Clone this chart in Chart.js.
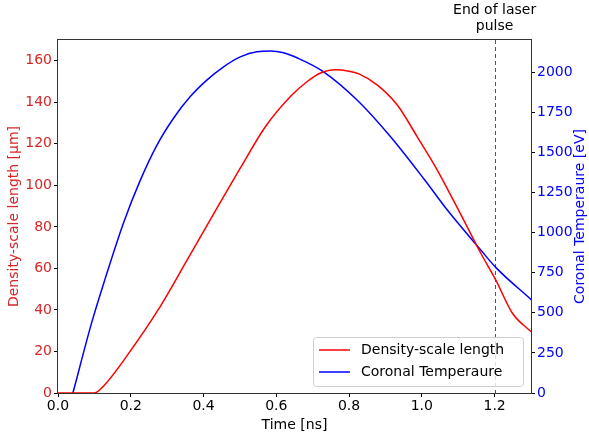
<!DOCTYPE html>
<html>
<head>
<meta charset="utf-8">
<script src="https://cdn.jsdelivr.net/npm/chart.js@4.4.0/dist/chart.umd.min.js"></script>
<style>
  html, body { margin: 0; padding: 0; background: #fff; }
</style>
</head>
<body>
<canvas id="myChart" width="589" height="439"></canvas>
<script>
// density-scale length (red, left axis), time in ns
var timeRed = [0, 0.1, 0.128, 0.2, 0.275, 0.35, 0.44, 0.5, 0.569, 0.64, 0.685, 0.72, 0.762, 0.8, 0.827, 0.877, 0.932, 0.987, 1.042, 1.107, 1.162, 1.203, 1.249, 1.3];
var densityLength = [0, 0, 3.9, 20.5, 40, 62.5, 90, 108, 128, 143, 150, 154, 155.7, 155, 153.7, 148.4, 138.8, 123.5, 107.5, 86, 67.3, 54.5, 38.4, 29.5];
// coronal temperature (blue, right axis)
var timeBlue = [0.041, 0.092, 0.129, 0.18, 0.226, 0.272, 0.317, 0.363, 0.409, 0.455, 0.501, 0.547, 0.584, 0.62, 0.661, 0.73, 0.822, 0.914, 1.008, 1.07, 1.162, 1.203, 1.302];
var coronalTemp = [0, 434, 708, 1060, 1325, 1545, 1711, 1846, 1950, 2033, 2095, 2127, 2131, 2120, 2085, 2002, 1826, 1597, 1327, 1140, 891, 783, 579];
var laserEnd = 1.2;
var seriesNames = ["Density-scale length", "Coronal Temperaure"];
var xTicks = [0, 0.2, 0.4, 0.6, 0.8, 1.0, 1.2];
var leftTicks = [0, 20, 40, 60, 80, 100, 120, 140, 160];
var rightTicks = [0, 250, 500, 750, 1000, 1250, 1500, 1750, 2000];
var rightTitle = "Coronal Temperaure [eV]";

var FONT = "DejaVu Sans";
var redText = "#d62728";

function toPoints(xs, ys) {
  return xs.map(function (x, i) { return {x: x, y: ys[i]}; });
}
function setTicks(list) {
  return function (scale) { scale.ticks = list.map(function (v) { return {value: v}; }); };
}

var framePlugin = {
  id: "frame",
  beforeDatasetsDraw: function (chart) {
    // dashed line marking the end of the pulse
    var ctx = chart.ctx, a = chart.chartArea;
    var px = Math.round(chart.scales.x.getPixelForValue(laserEnd));
    ctx.save();
    ctx.strokeStyle = "#555";
    ctx.lineWidth = 1;
    ctx.setLineDash([4, 3]);
    ctx.beginPath();
    ctx.moveTo(px + 0.5, a.top);
    ctx.lineTo(px + 0.5, a.bottom);
    ctx.stroke();
    ctx.restore();
  },
  afterDatasetsDraw: function (chart) {
    var ctx = chart.ctx, a = chart.chartArea;
    ctx.save();
    ctx.strokeStyle = "#333";
    ctx.lineWidth = 1;
    ctx.strokeRect(Math.round(a.left) - 0.5, Math.round(a.top) - 0.5,
      Math.round(a.right - a.left) + 1, Math.round(a.bottom - a.top) + 1);
    ctx.restore();
  },
  afterDraw: function (chart) {
    var ctx = chart.ctx, a = chart.chartArea;
    var px = chart.scales.x.getPixelForValue(laserEnd);
    ctx.save();
    ctx.fillStyle = "#000";
    ctx.font = "14px '" + FONT + "'";
    ctx.textAlign = "center";
    ctx.textBaseline = "middle";
    ctx.fillText("End of laser", px, 10);
    ctx.fillText("pulse", px, 26);

    // right axis title, reading bottom to top like matplotlib
    ctx.save();
    ctx.translate(580, (a.top + a.bottom) / 2);
    ctx.rotate(-Math.PI / 2);
    ctx.fillStyle = "#0000ff";
    ctx.fillText(rightTitle, 0, 0);
    ctx.restore();

    // legend, lower right inside the plot
    var bx = a.right - 218, by = a.bottom - 56, bw = 210, bh = 49;
    ctx.fillStyle = "rgba(255,255,255,0.8)";
    ctx.strokeStyle = "#d0d0d0";
    ctx.lineWidth = 1;
    ctx.beginPath();
    ctx.roundRect(bx + 0.5, by + 0.5, bw, bh, 3);
    ctx.fill();
    ctx.stroke();
    chart.data.datasets.forEach(function (ds, i) {
      var ly = by + 13 + i * 22;
      ctx.strokeStyle = ds.borderColor;
      ctx.lineWidth = 1.5;
      ctx.beginPath();
      ctx.moveTo(bx + 6, ly);
      ctx.lineTo(bx + 37, ly);
      ctx.stroke();
      ctx.fillStyle = "#000";
      ctx.textAlign = "left";
      ctx.fillText(ds.label, bx + 48, ly);
    });
    ctx.restore();
  }
};

new Chart("myChart", {
  type: "scatter",
  data: {
    datasets: [{
      label: seriesNames[0],
      data: toPoints(timeRed, densityLength),
      borderColor: "#ff0000",
      backgroundColor: "#ff0000",
      showLine: true,
      pointRadius: 0,
      borderWidth: 1.5,
      cubicInterpolationMode: "monotone",
      yAxisID: "y"
    }, {
      label: seriesNames[1],
      data: toPoints(timeBlue, coronalTemp),
      borderColor: "#0000ff",
      backgroundColor: "#0000ff",
      showLine: true,
      pointRadius: 0,
      borderWidth: 1.5,
      cubicInterpolationMode: "monotone",
      yAxisID: "y1"
    }]
  },
  options: {
    responsive: false,
    animation: false,
    devicePixelRatio: 1,
    layout: {padding: {top: 40, left: 0, right: 0, bottom: 0}},
    plugins: {legend: {display: false}, tooltip: {enabled: false}},
    scales: {
      x: {
        type: "linear",
        min: 0, max: 1.3,
        afterBuildTicks: setTicks(xTicks),
        afterFit: function (s) { s.height = 46; },
        border: {display: false},
        grid: {drawOnChartArea: false, color: "#000", tickLength: 4},
        ticks: {
          maxRotation: 0, padding: 1, autoSkip: false,
          color: "#000", font: {family: FONT, size: 14},
          callback: function (v) { return v.toFixed(1); }
        },
        title: {display: true, text: "Time [ns]", color: "#000", font: {family: FONT, size: 14}, padding: {top: 0, bottom: 5}}
      },
      y: {
        position: "left",
        min: 0, max: 170,
        afterBuildTicks: setTicks(leftTicks),
        afterFit: function (s) { s.width = 58; },
        border: {display: false},
        grid: {drawOnChartArea: false, color: "#000", tickLength: 4},
        ticks: {padding: 2, autoSkip: false, color: redText, font: {family: FONT, size: 14},
          callback: function (v) { return String(v); }},
        title: {display: true, text: "Density-scale length [\u03bcm]", color: redText, font: {family: FONT, size: 14}, padding: {top: 6, bottom: 0}}
      },
      y1: {
        position: "right",
        min: 0, max: 2200,
        afterBuildTicks: setTicks(rightTicks),
        afterFit: function (s) { s.width = 58; },
        border: {display: false},
        grid: {drawOnChartArea: false, color: "#000", tickLength: 4},
        ticks: {padding: 2, autoSkip: false, color: "#0000ff", font: {family: FONT, size: 14},
          callback: function (v) { return String(v); }}
      }
    }
  },
  plugins: [framePlugin]
});
</script>
</body>
</html>
